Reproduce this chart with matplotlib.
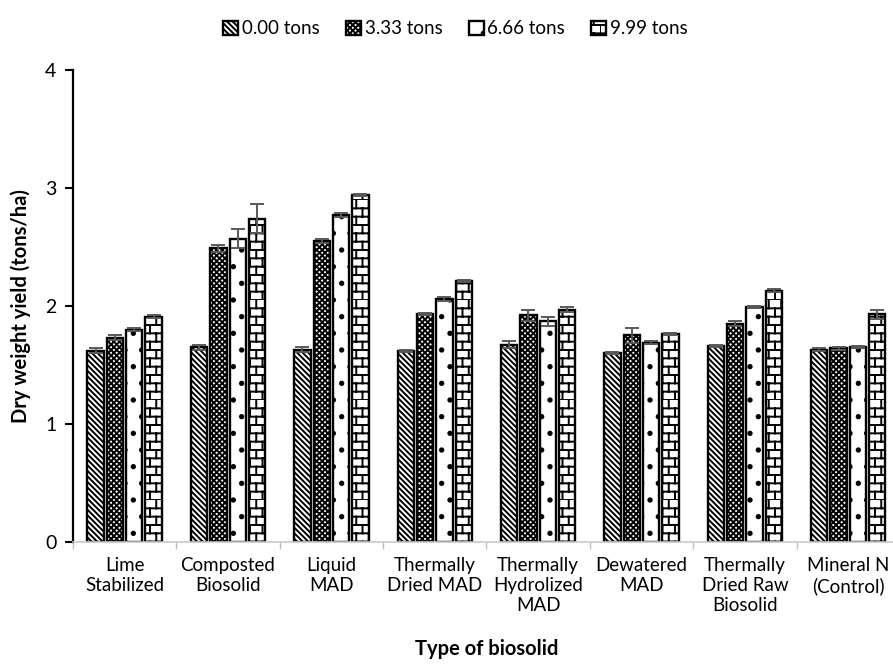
import warnings
import numpy as np
import matplotlib
matplotlib.use("Agg")
import matplotlib.pyplot as plt
from matplotlib import hatch as mhatch
from matplotlib.path import Path
from matplotlib.ticker import FixedLocator

warnings.filterwarnings("ignore")

# ---- data -------------------------------------------------------------
categories = ["Lime\nStabilized", "Composted\nBiosolid", "Liquid\nMAD",
              "Thermally\nDried MAD", "Thermally\nHydrolized\nMAD",
              "Dewatered\nMAD", "Thermally\nDried Raw\nBiosolid",
              "Mineral N\n(Control)"]
series_names = ["0.00 tons", "3.33 tons", "6.66 tons", "9.99 tons"]

yield_0_00 = [1.62, 1.65, 1.63, 1.62, 1.67, 1.60, 1.66, 1.63]
yield_3_33 = [1.73, 2.49, 2.55, 1.93, 1.92, 1.75, 1.85, 1.64]
yield_6_66 = [1.80, 2.57, 2.77, 2.06, 1.87, 1.69, 1.99, 1.65]
yield_9_99 = [1.91, 2.74, 2.94, 2.21, 1.97, 1.76, 2.13, 1.93]

err_0_00 = [0.02, 0.02, 0.02, 0.01, 0.03, 0.01, 0.01, 0.01]
err_3_33 = [0.02, 0.03, 0.02, 0.01, 0.05, 0.06, 0.02, 0.01]
err_6_66 = [0.01, 0.08, 0.02, 0.02, 0.04, 0.01, 0.01, 0.01]
err_9_99 = [0.01, 0.12, 0.01, 0.01, 0.02, 0.01, 0.01, 0.04]

yticks = [0, 1, 2, 3, 4]


# ---- brick hatch pattern ('b') -----------------------------------------
class BrickHatch(mhatch.HatchPatternBase):
    def __init__(self, hatch, density):
        self.rows = hatch.count("b") * density
        self.cols = (self.rows * 2) // 3
        if self.rows:
            self.num_lines = self.rows + self.rows * self.cols
        else:
            self.num_lines = 0
        self.num_vertices = self.num_lines * 2

    def set_vertices_and_codes(self, vertices, codes):
        segs = []
        dy = 1.0 / self.rows
        dx = 1.0 / self.cols
        for r in range(self.rows):
            y0 = r * dy
            segs.append(((0.0, y0), (1.0, y0)))
            shift = 0.0 if r % 2 == 0 else dx / 2
            for c in range(self.cols):
                x = (c * dx + shift) % 1.0
                segs.append(((x, y0), (x, y0 + dy)))
        v = np.array([p for s in segs for p in s], dtype=float)
        vertices[:] = v
        codes[0::2] = Path.MOVETO
        codes[1::2] = Path.LINETO


mhatch._hatch_types.append(BrickHatch)

# ---- figure -----------------------------------------------------------
font = ["Lato", "DejaVu Sans"]
plt.rcParams["font.family"] = font
plt.rcParams["hatch.linewidth"] = 1.4
plt.rcParams["hatch.color"] = "black"

fig = plt.figure(figsize=(8.93, 6.71), dpi=100)
ax = fig.add_axes([0.0817, 0.1923, 0.926, 0.7034])

x = np.arange(len(categories))
step = 0.187
width = 0.158
values = [yield_0_00, yield_3_33, yield_6_66, yield_9_99]
errors = [err_0_00, err_3_33, err_6_66, err_9_99]
hatches = ["\\" * 6, "x" * 6, ".", "bb"]

for i, (vals, errs, h, name) in enumerate(zip(values, errors, hatches, series_names)):
    pos = x + (i - 1.5) * step
    ax.bar(pos, vals, width, facecolor="white", edgecolor="black",
           linewidth=1.7, hatch=h, label=name, zorder=2)
    ax.errorbar(pos, vals, yerr=errs, fmt="none", ecolor="#595959",
                elinewidth=1.4, capsize=5, capthick=1.4, zorder=3)

ax.set_xlim(-0.5, len(categories) - 0.5)
ax.set_ylim(0, 4)
ax.set_yticks(yticks)
ax.set_yticklabels([str(t) for t in yticks], fontsize=14)

ax.set_xticks(x)
ax.set_xticklabels(categories, fontsize=13.5, linespacing=1.2)
ax.tick_params(axis="x", which="major", length=0, pad=11)
ax.xaxis.set_minor_locator(FixedLocator(np.arange(len(categories) + 1) - 0.5))
ax.tick_params(axis="x", which="minor", length=5, color="#bfbfbf", width=1)
ax.tick_params(axis="y", length=6, width=1.5, color="black", pad=6)

for s in ["top", "right"]:
    ax.spines[s].set_visible(False)
ax.spines["left"].set_linewidth(1.6)
ax.spines["bottom"].set_color("#c8c8c8")
ax.spines["bottom"].set_linewidth(1.2)

ax.set_ylabel("Dry weight yield (tons/ha)", fontsize=14.5, fontweight="bold",
              labelpad=10)
ax.set_xlabel("Type of biosolid", fontsize=14.5, fontweight="bold", labelpad=18)

leg = fig.legend(loc="upper center", bbox_to_anchor=(0.51, 0.995), ncol=4,
                 frameon=False, fontsize=13.5, handlelength=0.8,
                 handleheight=0.8, handletextpad=0.2, columnspacing=1.4)

fig.savefig("out.png", dpi=100)
